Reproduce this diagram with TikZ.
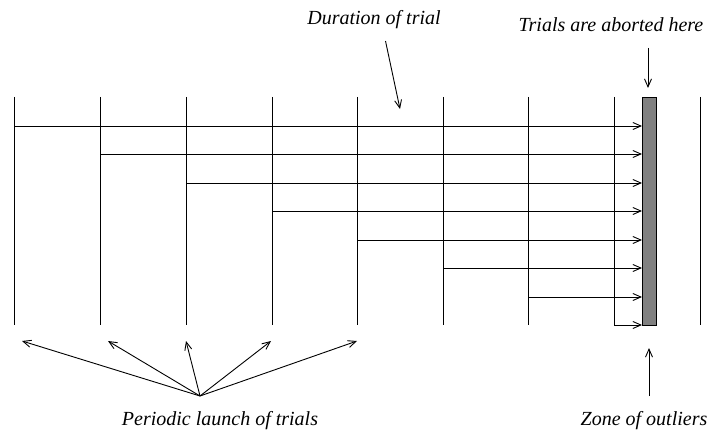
\documentclass[tikz,border=0pt]{standalone}
\usepackage{fontspec}
\setmainfont{Liberation Serif}
\usetikzlibrary{arrows.meta}
\definecolor{bargray}{RGB}{128,128,128}
\tikzset{
  lbl/.style={font=\itshape\fontsize{20}{24}\selectfont, inner sep=0pt, anchor=base},
  tl/.style={line width=0.9pt},
  arr/.style={line width=0.9pt, -{Straight Barb[length=8pt,width=7pt]}},
  bar/.style={draw, line width=0.9pt, fill=bargray}
}
\begin{document}
\begin{tikzpicture}[x=1pt,y=-1pt]
\useasboundingbox (0,0) rectangle (718,436);
% vertical time lines
\foreach \i/\x in {0/14,1/100,2/186,3/272,4/357,5/443,6/528,7/614,8/700}{
  \coordinate (t\i) at (\x,97);
  \coordinate (b\i) at (\x,325);
  \draw[tl] (t\i) -- (b\i);
}
% abort bar
\node[bar, minimum width=14pt, minimum height=228pt, inner sep=0pt, anchor=north west] (abort) at (642,97) {};
% trial arrows
\foreach \i/\y in {0/126,1/154,2/183,3/211,4/240,5/268,6/297,7/325}{
  \coordinate (s\i) at (b\i |- 0,\y);
  \coordinate (e\i) at (abort.west |- 0,\y);
  \draw[arr] (s\i) -- (e\i);
}
% labels
\node[lbl] (dur) at (374,25) {Duration of trial};
\coordinate (durs) at (385.5,41);
\coordinate (durtip) at (400,109);
\draw[arr] (durs) -- (durtip);
\node[lbl] (abl) at (611,32) {Trials are aborted here};
\coordinate (abs) at (648,48);
\coordinate (abt) at (648,88);
\draw[arr] (abs) -- (abt);
\node[lbl] (per) at (220,425) {Periodic launch of trials};
\coordinate (fan) at (200,396);
\foreach \i/\x in {0/22,1/108,2/186,3/271,4/357}{
  \coordinate (f\i) at (\x,341);
  \draw[arr] (fan) -- (f\i);
}
\node[lbl] (zone) at (644,425) {Zone of outliers};
\coordinate (zs) at (649,396);
\coordinate (zt) at (649,348);
\draw[arr] (zs) -- (zt);
\end{tikzpicture}
\end{document}
